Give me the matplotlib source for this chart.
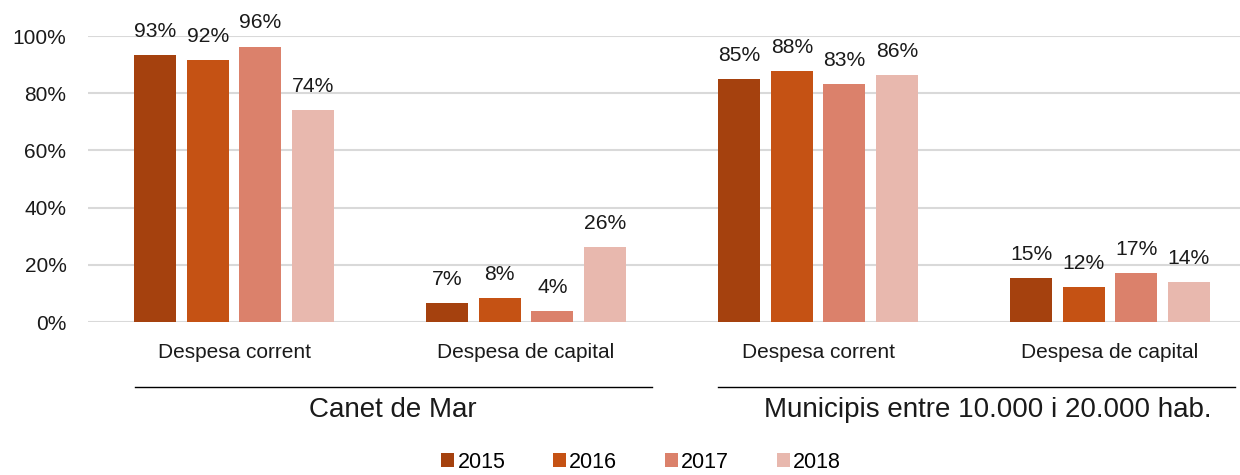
import numpy as np
import matplotlib
matplotlib.use('Agg')
import matplotlib.pyplot as plt
from matplotlib.patches import Patch
from matplotlib.lines import Line2D

plt.rcParams['font.family'] = ['Liberation Sans', 'DejaVu Sans']

years = ['2015', '2016', '2017', '2018']
categories = ['Despesa corrent', 'Despesa de capital', 'Despesa corrent', 'Despesa de capital']
groups = ['Canet de Mar', 'Municipis entre 10.000 i 20.000 hab.']
v2015 = [0.934, 0.066, 0.850, 0.154]
v2016 = [0.916, 0.084, 0.878, 0.122]
v2017 = [0.963, 0.038, 0.832, 0.171]
v2018 = [0.741, 0.262, 0.864, 0.140]
colors = ['#A5410E', '#C55214', '#DB816B', '#E8B8AE']

W, H = 1240, 475
fig = plt.figure(figsize=(W / 100, H / 100), dpi=100)
ax = fig.add_axes([88 / W, 153 / H, 1152 / W, 286 / H])

x = np.arange(len(categories))
series = [v2015, v2016, v2017, v2018]
for i, vals in enumerate(series):
    pos = x + (i - 1.5) * 0.18
    ax.bar(pos, vals, width=0.144, color=colors[i], zorder=3)
    for px, v in zip(pos, vals):
        ax.text(px, v + 0.05, f'{round(v * 100):d}%', ha='center', va='bottom',
                fontsize=15.2, color='#1a1a1a', clip_on=False)

ax.set_xlim(-0.5, 3.445)
ax.set_ylim(0, 1.0)
ax.set_yticks([0, 0.2, 0.4, 0.6, 0.8, 1.0])
ax.set_yticklabels(['0%', '20%', '40%', '60%', '80%', '100%'])
ax.set_xticks(x)
ax.set_xticklabels(categories)
ax.tick_params(axis='y', length=0, pad=15.5, labelsize=15, labelcolor='#1a1a1a')
ax.tick_params(axis='x', length=0, pad=15, labelsize=15, labelcolor='#1a1a1a')
ax.grid(axis='y', color='#D9D9D9', linewidth=1.5, zorder=0)
for s in ax.spines.values():
    s.set_visible(False)

# group separators and titles
for x0, x1 in [(135, 652), (718, 1235)]:
    fig.add_artist(Line2D([x0 / W, x1 / W], [1 - 387 / H, 1 - 387 / H], color='black', linewidth=1))
for cx, g in zip([393, 988], groups):
    fig.text(cx / W, 1 - 410 / H, g, ha='center', va='center', fontsize=20, color='#1a1a1a')

handles = [Patch(facecolor=c, edgecolor='none') for c in colors]
fig.legend(handles, years, loc='center', bbox_to_anchor=(641 / W, 1 - 462 / H), ncol=4,
           frameon=False, fontsize=15.5, handlelength=0.62, handleheight=0.62,
           handletextpad=0.15, columnspacing=2.2, borderpad=0)

fig.savefig('out.png', dpi=100)
